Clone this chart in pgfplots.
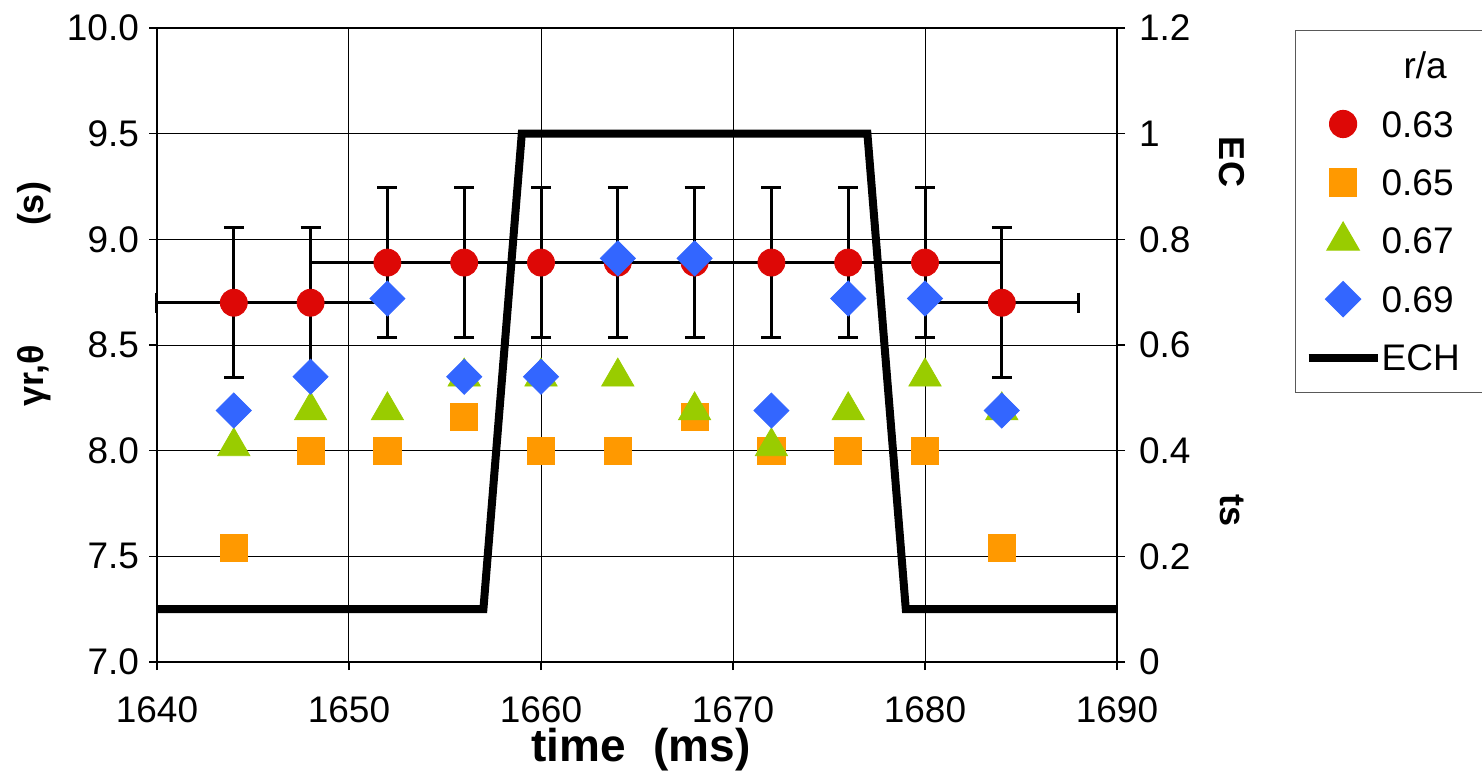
\documentclass[border=0pt]{standalone}
\usepackage{fontspec}
\setmainfont{Liberation Sans}
\usepackage{pgfplots}
\pgfplotsset{compat=1.18}
\definecolor{cred}{RGB}{221,8,6}
\definecolor{corange}{RGB}{255,153,0}
\definecolor{cgreen}{RGB}{153,204,0}
\definecolor{cblue}{RGB}{51,102,255}
\newcommand{\tickfont}{\fontsize{18.5}{20}\selectfont}
\newcommand{\xlabfont}{\bfseries\fontsize{23}{26}\selectfont}
\newcommand{\sidefont}{\bfseries\fontsize{18}{20}\selectfont}

\pgfplotstableread{
x    y     ex  ey
1644 8.70  4   0.355
1648 8.70  4   0.355
1652 8.89  4   0.355
1656 8.89  4   0.355
1660 8.89  4   0.355
1664 8.89  4   0.355
1668 8.89  4   0.355
1672 8.89  4   0.355
1676 8.89  4   0.355
1680 8.89  4   0.355
1684 8.70  4   0.355
}\tabA
\pgfplotstableread{
x    y
1644 7.54
1648 8.00
1652 8.00
1656 8.16
1660 8.00
1664 8.00
1668 8.16
1672 8.00
1676 8.00
1680 8.00
1684 7.54
}\tabB
\pgfplotstableread{
x    y
1644 8.02
1648 8.19
1652 8.19
1656 8.35
1660 8.35
1664 8.35
1668 8.19
1672 8.02
1676 8.19
1680 8.35
1684 8.19
}\tabC
\pgfplotstableread{
x    y
1644 8.19
1648 8.35
1652 8.72
1656 8.35
1660 8.35
1664 8.91
1668 8.91
1672 8.19
1676 8.72
1680 8.72
1684 8.19
}\tabD

\begin{document}
\begin{tikzpicture}
\begin{axis}[
  scale only axis, width=480pt, height=317pt,
  xmin=1640, xmax=1690, ymin=7, ymax=10,
  axis y line*=left,
  xtick={1640,1650,1660,1670,1680,1690},
  ytick={7,7.5,8,8.5,9,9.5,10},
  xtick pos=left, ytick pos=left,
  tick align=outside, major tick length=4pt,
  tick style={black, line width=0.6pt},
  axis line style={black, line width=0.6pt},
  grid=major, major grid style={black, line width=0.5pt},
  /pgf/number format/assume math mode=true,
  ticklabel style={font=\tickfont},
  yticklabel style={xshift=-1.5pt, /pgf/number format/.cd, fixed, fixed zerofill, precision=1},
  xticklabel style={yshift=-10pt, /pgf/number format/1000 sep={}},
  xlabel={time\hspace{0.6em}(ms)},
  xlabel style={font=\xlabfont, at={(axis description cs:0.504,-0.1577)}, anchor=base},
  clip=false,
]
\coordinate (O) at (rel axis cs:0,0);
\addplot[only marks, mark=*, mark size=6.75pt, color=cred,
  error bars/.cd, x dir=both, x explicit, y dir=both, y explicit,
  error bar style={black, line width=1.5pt},
  error mark options={rotate=90, black, line width=1.5pt, mark size=5pt}]
  table[x=x, y=y, x error=ex, y error=ey] {\tabA};
\addplot[only marks, mark=square*, mark size=6.8pt, color=corange] table[x=x, y=y] {\tabB};
\addplot[only marks, mark=triangle*, mark size=9.3pt, color=cgreen] table[x=x, y=y] {\tabC};
\addplot[only marks, mark=square*, mark size=6.2pt, mark options={rotate=45}, color=cblue] table[x=x, y=y] {\tabD};
\end{axis}
\begin{axis}[
  scale only axis, width=480pt, height=317pt,
  xmin=1640, xmax=1690, ymin=0, ymax=1.2,
  axis y line*=right, axis x line=none,
  ytick={0,0.2,0.4,0.6,0.8,1,1.2},
  ytick pos=right,
  tick align=outside, major tick length=4pt,
  tick style={black, line width=0.6pt},
  axis line style={black, line width=0.6pt},
  /pgf/number format/assume math mode=true,
  ticklabel style={font=\tickfont},
  yticklabel style={xshift=3.5pt},
  legend image code/.code={\draw[mark repeat=2,mark phase=2,#1] plot coordinates {(0pt,0pt)(17.25pt,0pt)(34.5pt,0pt)};},
  legend cell align=left,
  legend style={at={(1.18542,0.99685)}, anchor=north west, draw=black!65, line width=0.6pt,
    fill=white, font=\tickfont, row sep=0pt, column sep=0pt, inner xsep=4.5pt, inner ysep=2.9pt,
    nodes={inner sep=0pt, text height=13.2pt, text depth=0pt, minimum height=29.2pt, text width=64pt}},
]
\addlegendimage{empty legend}
\addlegendentry{\hspace{11pt}r/a}
\addlegendimage{only marks, mark=*, mark size=6.75pt, color=cred}
\addlegendentry{0.63}
\addlegendimage{only marks, mark=square*, mark size=6.8pt, color=corange}
\addlegendentry{0.65}
\addlegendimage{only marks, mark=triangle*, mark size=9.3pt, color=cgreen}
\addlegendentry{0.67}
\addlegendimage{only marks, mark=square*, mark size=6.2pt, mark options={rotate=45}, color=cblue}
\addlegendentry{0.69}
\addplot[black, line width=4pt, line join=miter] coordinates {(1640,0.1) (1657,0.1) (1659,1) (1677,1) (1679,0.1) (1690,0.1)};
\addlegendentry{ECH}
\end{axis}
\node[rotate=90, font=\sidefont] at ([shift={(-61.5pt,229pt)}]O) {(s)};
\node[rotate=90, font=\sidefont] at ([shift={(-61.5pt,143.25pt)}]O) {γr,θ};
\node[rotate=-90, font=\sidefont] at ([shift={(537.5pt,250pt)}]O) {EC};
\node[rotate=-90, font=\sidefont] at ([shift={(537.5pt,75.5pt)}]O) {ts};
\pgfresetboundingbox
\path[use as bounding box] ([shift={(-78.5pt,-55pt)}]O) rectangle ([shift={(662.5pt,331pt)}]O);
\end{tikzpicture}
\end{document}
